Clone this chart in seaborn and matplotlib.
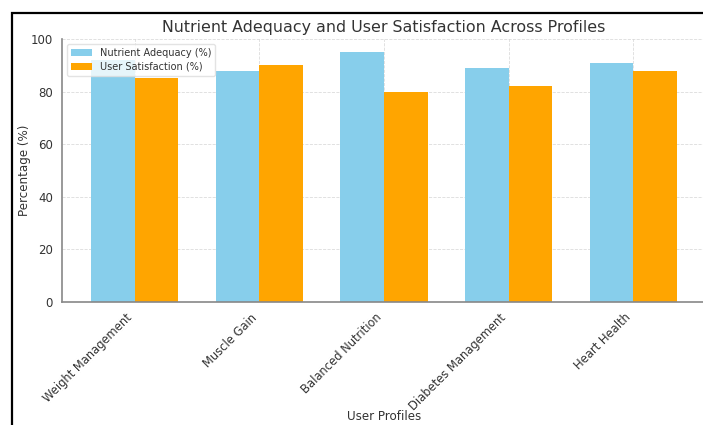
import pandas as pd
import seaborn as sns
from matplotlib import pyplot as plt
from matplotlib.patches import Rectangle

profiles = ["Weight Management", "Muscle Gain", "Balanced Nutrition",
            "Diabetes Management", "Heart Health"]
nutrient_adequacy = [92, 88, 95, 89, 91]
user_satisfaction = [85, 90, 80, 82, 88]
series_names = ["Nutrient Adequacy (%)", "User Satisfaction (%)"]
colors = ["#87CEEB", "#FFA500"]

df = pd.DataFrame({
    "profile": profiles * 2,
    "value": nutrient_adequacy + user_satisfaction,
    "metric": [series_names[0]] * len(profiles) + [series_names[1]] * len(profiles),
})

sns.set_style("white")
plt.rcParams["font.family"] = ["DejaVu Sans"]

fig = plt.figure(figsize=(7.03, 4.25), dpi=100)
ax = fig.add_axes([62 / 703, 123 / 425, 644 / 703, 263 / 425])

sns.barplot(data=df, x="profile", y="value", hue="metric", order=profiles,
            hue_order=series_names, palette=colors, width=0.7, gap=0,
            linewidth=0, saturation=1, errorbar=None, ax=ax)

ax.set_xlim(-0.585, 4.585)
ax.set_ylim(0, 100)
ax.set_yticks([0, 20, 40, 60, 80, 100])
ax.grid(True, color="#cccccc", linestyle="--", linewidth=0.6, alpha=0.7)
ax.set_axisbelow(True)
for s in ["top", "right"]:
    ax.spines[s].set_visible(False)
for s in ["left", "bottom"]:
    ax.spines[s].set_color("#888888")
    ax.spines[s].set_linewidth(1.2)
ax.tick_params(axis="both", length=3, color="#444444", labelsize=8.5, labelcolor="#333333")
ax.tick_params(axis="x", labelsize=8.3)
plt.setp(ax.get_xticklabels(), rotation=45, ha="right")

ax.set_title("Nutrient Adequacy and User Satisfaction Across Profiles",
             fontsize=11.4, color="#333333", pad=5)
ax.set_ylabel("Percentage (%)", fontsize=8.6, color="#333333")
ax.set_xlabel("User Profiles", fontsize=8.6, color="#333333")
ax.yaxis.set_label_coords(-0.059, 0.5)
ax.xaxis.set_label_coords(0.5, -0.437)
ax.xaxis.label.set_va("center")
ax.yaxis.label.set_va("center")

legend = ax.legend(loc="upper left", fontsize=7, frameon=True, borderpad=0.4,
                   handlelength=2.2, labelspacing=0.4)
legend.get_frame().set_edgecolor("#dddddd")
for t in legend.get_texts():
    t.set_color("#333333")

fig.patches.append(Rectangle((12 / 703, -0.1), 1.2, 1.1 - 13 / 425,
                             transform=fig.transFigure, fill=False,
                             edgecolor="black", linewidth=1.6, clip_on=False))

plt.savefig("out.png", dpi=100)
plt.close()
